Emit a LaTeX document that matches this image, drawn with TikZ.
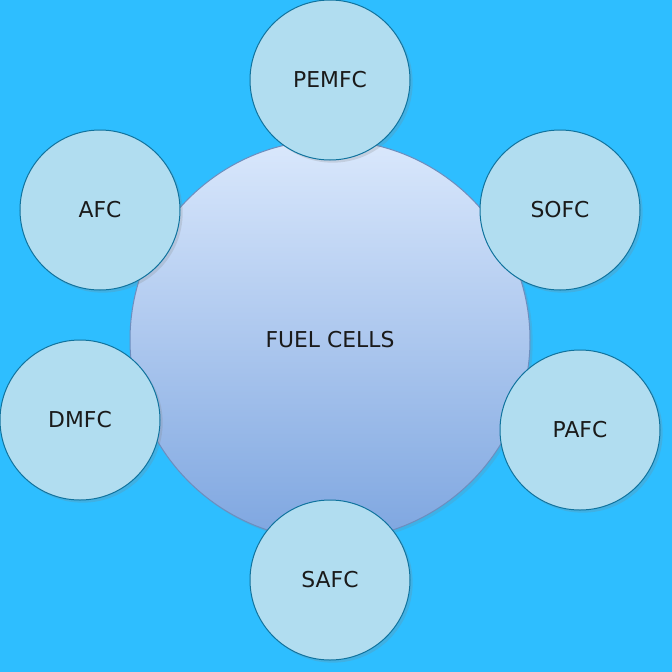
\documentclass[tikz,border=0pt]{standalone}
\usepackage{fontspec}
\setmainfont{DejaVu Sans}
\usetikzlibrary{shadows}
\definecolor{bgblue}{RGB}{46,190,255}
\definecolor{hubtop}{HTML}{DAE8FC}
\definecolor{hubbot}{HTML}{7EA6E0}
\definecolor{hubline}{HTML}{6C8EBF}
\definecolor{cellfill}{HTML}{B1DDF0}
\definecolor{cellline}{HTML}{10739E}
\definecolor{ink}{HTML}{1A1A1A}
\tikzset{
  px/.style={x=0.75pt,y=-0.75pt},
  hub/.style={circle, draw=hubline, line width=0.75pt, top color=hubtop, bottom color=hubbot,
    minimum size=300pt, inner sep=0pt, text=ink, font=\fontsize{16.4}{19}\selectfont,
    drop shadow={opacity=0.18, shadow xshift=2pt, shadow yshift=-2pt}},
  cell/.style={circle, draw=cellline, line width=0.75pt, fill=cellfill,
    minimum size=120pt, inner sep=0pt, text=ink, font=\fontsize{16.4}{19}\selectfont,
    drop shadow={opacity=0.22, shadow xshift=2pt, shadow yshift=-2pt}}
}
\begin{document}
\begin{tikzpicture}[px]
  \fill[bgblue] (0,0) rectangle (672,672);
  \useasboundingbox (0,0) rectangle (672,672);
  % central category
  \node[hub] (fc) at (330,340) {FUEL CELLS};
  % fuel cell types around it
  \node[cell] (pemfc) at (330,80) {PEMFC};
  \node[cell] (afc) at (100,210) {AFC};
  \node[cell] (sofc) at (560,210) {SOFC};
  \node[cell] (dmfc) at (80,420) {DMFC};
  \node[cell] (pafc) at (580,430) {PAFC};
  \node[cell] (safc) at (330,580) {SAFC};
\end{tikzpicture}
\end{document}
